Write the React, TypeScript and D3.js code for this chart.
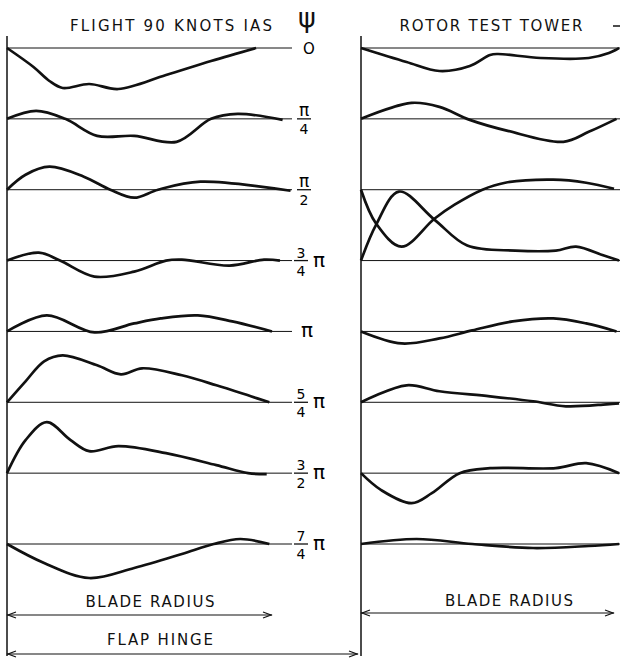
import React from 'react';
import * as d3 from 'd3';

// azimuth positions, top to bottom
const azimuths = ['0', 'π/4', 'π/2', '3/4π', 'π', '5/4π', '3/2π', '7/4π'];

// [blade radius %, deflection]
const flight0: [number, number][] = [[0, 0], [10, -19], [16, -33], [21, -40], [31, -36], [42, -41], [60, -27], [77, -13], [94, 0]];
const flightPi4: [number, number][] = [[0, 0], [11, 8], [22, 0], [34, -17], [48, -17], [64, -23], [77, 0], [87, 5], [104, -1]];
const flightPi2: [number, number][] = [[0, 0], [7, 15], [16, 23], [29, 13], [39, 0], [48, -8], [57, 0], [73, 8], [107, -1]];
const flight3Pi4: [number, number][] = [[0, 0], [12, 8], [20, 0], [33, -16], [48, -11], [60, 0], [66, 1], [84, -5], [97, 1], [103, 0]];
const flightPi: [number, number][] = [[0, 0], [15, 16], [33, -1], [48, 8], [58, 13], [72, 16], [85, 10], [100, 0]];
const flight5Pi4: [number, number][] = [[0, 0], [7, 21], [14, 41], [21, 47], [34, 37], [43, 28], [51, 34], [66, 27], [79, 17], [92, 6], [99, 0]];
const flight3Pi2: [number, number][] = [[0, 0], [7, 33], [15, 51], [24, 33], [31, 22], [42, 27], [60, 20], [79, 8], [91, 0], [98, -1]];
const flight7Pi4: [number, number][] = [[0, 0], [14, -19], [31, -34], [48, -24], [66, -10], [78, 0], [88, 5], [99, 0]];

// [blade radius %, deflection]
const tower0: [number, number][] = [[0, 0], [18, -14], [31, -23], [43, -18], [51, -7], [54, -6], [71, -10], [90, -10], [98, -5], [102, 0]];
const towerPi4: [number, number][] = [[0, 0], [20, 16], [31, 12], [43, -1], [58, -12], [80, -23], [90, -13], [101, 0]];
const towerPi2: [number, number][] = [[0, 0], [6, -34], [16, -57], [29, -29], [37, -15], [48, 0], [57, 7], [76, 10], [89, 7], [100, 1]];
const tower3Pi4: [number, number][] = [[0, 0], [6, 36], [15, 69], [29, 41], [42, 15], [61, 10], [77, 10], [85, 14], [96, 5], [102, 0]];
const towerPi: [number, number][] = [[0, 0], [16, -12], [31, -7], [44, 1], [60, 10], [76, 13], [89, 8], [101, 0]];
const tower5Pi4: [number, number][] = [[0, 0], [18, 17], [31, 11], [51, 6], [68, 1], [81, -4], [97, -2], [102, -1]];
const tower3Pi2: [number, number][] = [[0, 0], [8, -17], [20, -30], [28, -20], [39, 0], [51, 5], [77, 5], [89, 10], [102, 0]];
const tower7Pi4: [number, number][] = [[0, 0], [22, 5], [44, 0], [68, -4], [90, -2], [102, 0]];

const flightSeries = [flight0, flightPi4, flightPi2, flight3Pi4, flightPi, flight5Pi4, flight3Pi2, flight7Pi4];
const towerSeries = [tower0, towerPi4, towerPi2, tower3Pi4, towerPi, tower5Pi4, tower3Pi2, tower7Pi4];

const ink = '#111';
const font = "'DejaVu Sans', sans-serif";

const xFlight = d3.scaleLinear().domain([0, 100]).range([7, 272]);
const xTower = d3.scaleLinear().domain([0, 100]).range([361, 614]);
const rowY = d3.scaleLinear().domain([0, azimuths.length - 1]).range([48, 544]);
const defl = d3.scaleLinear().domain([-50, 50]).range([50, -50]);

const Arrow = ({ x1, x2, y }: { x1: number; x2: number; y: number }) => (
  <g stroke={ink} strokeWidth={1.2} fill="none">
    <line x1={x1} x2={x2} y1={y} y2={y} />
    <polyline points={`${x1 + 9},${y - 3} ${x1 + 1},${y} ${x1 + 9},${y + 3}`} />
    <polyline points={`${x2 - 9},${y - 3} ${x2 - 1},${y} ${x2 - 9},${y + 3}`} />
  </g>
);

const AzLabel = ({ label, y }: { label: string; y: number }) => {
  const cx = 304;
  if (label === '0') {
    return <text x={cx + 5} y={y + 6} fontSize={15} textAnchor="middle" fontFamily={font}>O</text>;
  }
  if (label === 'π') {
    return <text x={cx + 3} y={y + 6} fontSize={20} textAnchor="middle" fontFamily={font}>π</text>;
  }
  const [frac, tail] = label.endsWith('π') && !label.startsWith('π')
    ? [label.slice(0, -1), 'π']
    : [label, ''];
  const [num, den] = frac.split('/');
  const fx = tail ? cx - 3 : cx;
  return (
    <g fontFamily={font} textAnchor="middle">
      <text x={fx} y={y - 3} fontSize={num === 'π' ? 17 : 14}>{num}</text>
      <line x1={fx - 7} x2={fx + 7} y1={y} y2={y} stroke={ink} strokeWidth={1.3} />
      <text x={fx} y={y + 15} fontSize={14}>{den}</text>
      {tail && <text x={fx + 18} y={y + 6} fontSize={20}>{tail}</text>}
    </g>
  );
};

const Panel = ({ series, x, lineEnd }: { series: [number, number][][]; x: d3.ScaleLinear<number, number>; lineEnd: number }) => (
  <g>
    <line x1={x(0)} x2={x(0)} y1={36} y2={656} stroke={ink} strokeWidth={1.5} />
    {series.map((pts, i) => {
      const base = rowY(i);
      const line = d3
        .line<[number, number]>()
        .x((d) => x(d[0]))
        .y((d) => base + defl(d[1]))
        .curve(d3.curveCatmullRom.alpha(0.5));
      return (
        <g key={i}>
          <line x1={x(0)} x2={lineEnd} y1={base} y2={base} stroke={ink} strokeWidth={1} />
          <path d={line(pts) ?? ''} fill="none" stroke={ink} strokeWidth={2.7} strokeLinejoin="round" />
        </g>
      );
    })}
  </g>
);

export default function App() {
  return (
    <svg width={620} height={661} style={{ position: 'absolute', left: 0, top: 0, background: '#fff' }}>
      <rect width={620} height={661} fill="#fff" />
      <g fill={ink} fontFamily={font}>
        <text x={171} y={31} fontSize={15} textAnchor="middle" textLength={202} lengthAdjust="spacing">FLIGHT 90 KNOTS IAS</text>
        <text x={307} y={27} fontSize={27} textAnchor="middle">ψ</text>
        <text x={491} y={31} fontSize={15} textAnchor="middle" textLength={183} lengthAdjust="spacing">ROTOR TEST TOWER</text>
      </g>
      <line x1={613} x2={620} y1={26} y2={26} stroke={ink} strokeWidth={1.5} />

      <Panel series={flightSeries} x={xFlight} lineEnd={292} />
      <Panel series={towerSeries} x={xTower} lineEnd={620} />

      {azimuths.map((a, i) => (
        <AzLabel key={a} label={a} y={rowY(i)} />
      ))}

      <g fill={ink} fontFamily={font} fontSize={15} textAnchor="middle">
        <text x={150} y={607} textLength={129} lengthAdjust="spacing">BLADE RADIUS</text>
        <text x={509} y={606} textLength={128} lengthAdjust="spacing">BLADE RADIUS</text>
        <text x={160} y={645} textLength={106} lengthAdjust="spacing">FLAP HINGE</text>
      </g>
      <Arrow x1={xFlight(0)} x2={xFlight(100)} y={615} />
      <Arrow x1={xTower(0)} x2={xTower(100)} y={613} />
      <Arrow x1={xFlight(0)} x2={xTower(0) - 3} y={654} />
    </svg>
  );
}
